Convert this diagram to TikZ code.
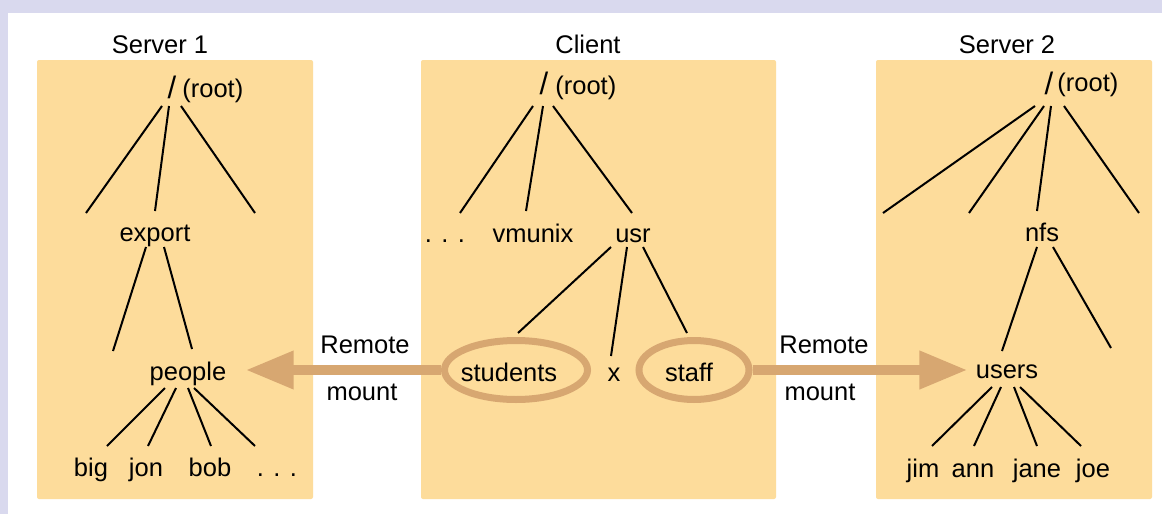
\documentclass[tikz,border=0pt]{standalone}
\usepackage{fontspec}
\setmainfont{Liberation Sans}
\usetikzlibrary{arrows.meta,shapes.geometric}
\definecolor{frame}{HTML}{D9D9EE}
\definecolor{panel}{HTML}{FDDC9B}
\definecolor{mountbrown}{HTML}{D7A771}

\begin{document}
\begin{tikzpicture}[x = 0.5pt, y = -0.5pt,
  every node/.style = {inner sep = 0pt, font = \fontsize{12.75}{15}\selectfont},
  dirname/.style = {anchor = base},
  rootslash/.style = {anchor = base, font = \fontsize{15.5}{18}\selectfont},
  branch/.style = {line width = 1pt},
  mountring/.style = {ellipse, draw = mountbrown, line width = 3.5pt},
  mountarrow/.style = {draw = mountbrown, line width = 5pt, -{Triangle[length = 24pt, width = 18pt]}}]
\useasboundingbox (0,0) rectangle (1162,514);
\fill[frame] (0,0) rectangle (1162,514);
\fill[white] (8,13) rectangle (1162,514);
\fill[panel, rounded corners = 1pt] (37,60) rectangle (313,499);
\fill[panel, rounded corners = 1pt] (421,60) rectangle (776,499);
\fill[panel, rounded corners = 1pt] (876,60) rectangle (1152,499);

% server 1
\node[dirname] (s1title) at (160,54) {Server 1};
\node[rootslash] (s1root) at (172,98) {/};
\node[dirname, anchor = base west] (s1rootlbl) at (182,97) {(root)};
\node[dirname] (export) at (155,241) {export};
\node[dirname] (people) at (188,380) {people};
\node[dirname] (big) at (91,476) {big};
\node[dirname] (jon) at (146,476) {jon};
\node[dirname] (bob) at (210,476) {bob};
\node[dirname] (s1more) at (277,476) {. . .};
\coordinate (s1left) at (86,213);
\coordinate (s1right) at (255,213);
\coordinate (s1side) at (113,351);
\draw[branch] ([shift = {(-10,8)}]s1root.base) -- (s1left);
\draw[branch] ([shift = {(-3,8)}]s1root.base) -- ([shift = {(0,-30)}]export.base);
\draw[branch] ([shift = {(9,8)}]s1root.base) -- (s1right);
\draw[branch] ([shift = {(-9,6)}]export.base) -- (s1side);
\draw[branch] ([shift = {(9,6)}]export.base) -- ([shift = {(4,-31)}]people.base);
\draw[branch] ([shift = {(-23,8)}]people.base) -- ([shift = {(16,-30)}]big.base);
\draw[branch] ([shift = {(-12,8)}]people.base) -- ([shift = {(2,-30)}]jon.base);
\draw[branch] ([shift = {(0,8)}]people.base) -- ([shift = {(1,-30)}]bob.base);
\draw[branch] ([shift = {(6,8)}]people.base) -- ([shift = {(-22,-30)}]s1more.base);

% client
\node[dirname] (cltitle) at (588,54) {Client};
\node[rootslash] (clroot) at (544,94) {/};
\node[dirname, anchor = base west] (clrootlbl) at (555,94) {(root)};
\node[dirname] (clmore) at (445,242) {. . .};
\node[dirname] (vmunix) at (533,242) {vmunix};
\node[dirname] (usr) at (633,242) {usr};
\node[mountring, minimum width = 71.5pt, minimum height = 29.5pt] (studring) at (516,370) {};
\node[dirname] (students) at (509,381) {students};
\node[dirname] (xdir) at (614,381) {x};
\node[mountring, minimum width = 55pt, minimum height = 29.5pt] (staffring) at (694,370) {};
\node[dirname] (staff) at (689,381) {staff};
\draw[branch] ([shift = {(-11,12)}]clroot.base) -- ([shift = {(15,-29)}]clmore.base);
\draw[branch] ([shift = {(-1,12)}]clroot.base) -- ([shift = {(-7,-31)}]vmunix.base);
\draw[branch] ([shift = {(9,12)}]clroot.base) -- ([shift = {(-1,-29)}]usr.base);
\draw[branch] ([shift = {(-22,5)}]usr.base) -- ([shift = {(2,-4)}]studring.north);
\draw[branch] ([shift = {(-6,5)}]usr.base) -- ([shift = {(-3,-25)}]xdir.base);
\draw[branch] ([shift = {(10,5)}]usr.base) -- ([shift = {(-7,-4)}]staffring.north);

% server 2
\node[dirname] (s2title) at (1007,54) {Server 2};
\node[rootslash] (s2root) at (1049,94) {/};
\node[dirname, anchor = base west] (s2rootlbl) at (1057,91) {(root)};
\node[dirname] (nfs) at (1042,241) {nfs};
\node[dirname] (users) at (1007,378) {users};
\node[dirname] (jim) at (923,477) {jim};
\node[dirname] (ann) at (973,477) {ann};
\node[dirname] (jane) at (1037,477) {jane};
\node[dirname] (joe) at (1093,477) {joe};
\coordinate (s2far) at (883,213);
\coordinate (s2left) at (969,213);
\coordinate (s2right) at (1139,213);
\coordinate (s2side) at (1111,348);
\draw[branch] ([shift = {(-14,12)}]s2root.base) -- (s2far);
\draw[branch] ([shift = {(-5,12)}]s2root.base) -- (s2left);
\draw[branch] ([shift = {(2,12)}]s2root.base) -- ([shift = {(-5,-30)}]nfs.base);
\draw[branch] ([shift = {(15,12)}]s2root.base) -- (s2right);
\draw[branch] ([shift = {(-5,6)}]nfs.base) -- ([shift = {(-5,-27)}]users.base);
\draw[branch] ([shift = {(11,6)}]nfs.base) -- (s2side);
\draw[branch] ([shift = {(-15,9)}]users.base) -- ([shift = {(9,-31)}]jim.base);
\draw[branch] ([shift = {(-6,9)}]users.base) -- ([shift = {(1,-31)}]ann.base);
\draw[branch] ([shift = {(7,9)}]users.base) -- ([shift = {(0,-31)}]jane.base);
\draw[branch] ([shift = {(13,9)}]users.base) -- ([shift = {(-12,-31)}]joe.base);

% remote mounts
\draw[mountarrow, shorten > = 9.5pt] (studring.west) -- (studring.west -| people.east);
\draw[mountarrow, shorten > = 4pt] (staffring.east) -- (staffring.east -| users.west);
\node[dirname] (lremote) at (365,353) {Remote};
\node[dirname] (lmount) at (362,400) {mount};
\node[dirname] (rremote) at (824,353) {Remote};
\node[dirname] (rmount) at (820,400) {mount};
\end{tikzpicture}
\end{document}
